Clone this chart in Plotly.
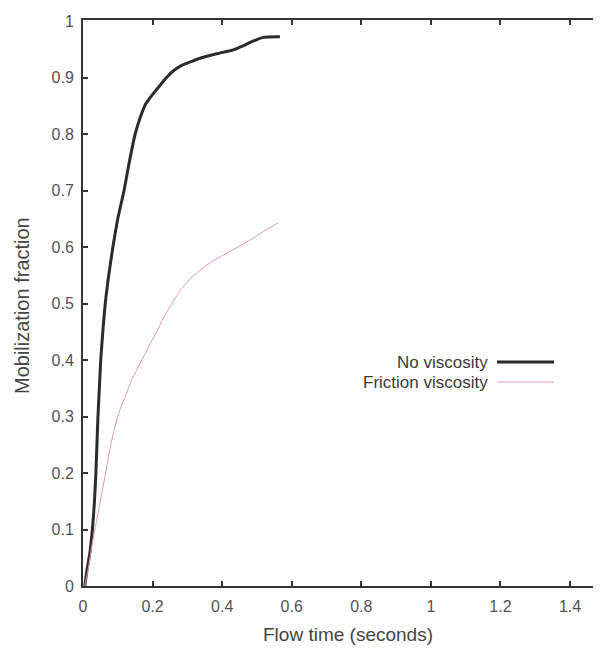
import plotly.graph_objects as go

# No viscosity (black thick curve)
nv_time = [0.005, 0.012, 0.02, 0.027, 0.033, 0.037, 0.040, 0.043, 0.047, 0.051, 0.057, 0.064,
           0.074, 0.086, 0.10, 0.118, 0.133, 0.15, 0.165, 0.18, 0.20, 0.22, 0.24, 0.26,
           0.285, 0.31, 0.336, 0.384, 0.432, 0.46, 0.48, 0.518, 0.566]
nv_frac = [0.0, 0.03, 0.06, 0.10, 0.15, 0.20, 0.25, 0.30, 0.35, 0.40, 0.45, 0.50,
           0.55, 0.60, 0.65, 0.70, 0.75, 0.80, 0.83, 0.853, 0.87, 0.885, 0.90, 0.912,
           0.922, 0.928, 0.934, 0.942, 0.949, 0.956, 0.962, 0.971, 0.972]

# Friction viscosity (thin pink curve)
fv_time = [0.005, 0.015, 0.025, 0.034, 0.05, 0.065, 0.078, 0.092, 0.105, 0.121, 0.14, 0.164,
           0.19, 0.212, 0.23, 0.25, 0.27, 0.288, 0.31, 0.336, 0.365, 0.394, 0.44, 0.48,
           0.52, 0.561]
fv_frac = [0.0, 0.03, 0.07, 0.10, 0.15, 0.20, 0.245, 0.282, 0.31, 0.335, 0.365, 0.394,
           0.425, 0.45, 0.473, 0.494, 0.514, 0.53, 0.545, 0.559, 0.572, 0.583, 0.598, 0.612,
           0.628, 0.643]

x_ticks = [0, 0.2, 0.4, 0.6, 0.8, 1.0, 1.2, 1.4]
x_labels = ["0", "0.2", "0.4", "0.6", "0.8", "1", "1.2", "1.4"]
y_ticks = [0, 0.1, 0.2, 0.3, 0.4, 0.5, 0.6, 0.7, 0.8, 0.9, 1.0]
y_labels = ["0", "0.1", "0.2", "0.3", "0.4", "0.5", "0.6", "0.7", "0.8", "0.9", "1"]

series_names = ["No viscosity", "Friction viscosity"]
series_colors = ["#2b2b2b", "#e79aaa"]
series_widths = [3.0, 1.0]

FONT = "Liberation Sans, Arial, sans-serif"

fig = go.Figure()
fig.add_trace(go.Scatter(x=nv_time, y=nv_frac, mode="lines", name=series_names[0],
                         line=dict(color=series_colors[0], width=series_widths[0],
                                   shape="spline", smoothing=0.6),
                         showlegend=False))
fig.add_trace(go.Scatter(x=fv_time, y=fv_frac, mode="lines", name=series_names[1],
                         line=dict(color=series_colors[1], width=series_widths[1],
                                   shape="spline", smoothing=0.6),
                         showlegend=False))

# page has an 8px body margin; figure is sized so the plot lands where the reference's does
OFF = 8
W, H = 601 - OFF, 648 - OFF
L, R, T, B = 83 - OFF, 0, 20 - OFF, 62
pw, ph = W - L - R, H - T - B

def px(xp):
    return (xp - OFF - L) / pw

def py(yp):
    return (H - B - (yp - OFF)) / ph

# gnuplot-style key: text right-aligned, sample line to the right
key_rows = [362, 382]
for name, color, width, yr in zip(series_names, series_colors, series_widths, key_rows):
    fig.add_annotation(xref="paper", yref="paper", x=px(490), y=py(yr), text=name,
                       showarrow=False, xanchor="right", yanchor="middle",
                       font=dict(family=FONT, size=17, color="#3a3a3a"))
    fig.add_shape(type="line", xref="paper", yref="paper", x0=px(497), x1=px(554),
                  y0=py(yr), y1=py(yr), line=dict(color=color, width=width))

fig.add_annotation(xref="paper", yref="paper", x=px(22), y=py(306), text="Mobilization fraction",
                   textangle=-90, showarrow=False, xanchor="center", yanchor="middle",
                   font=dict(family=FONT, size=20, color="#454545"))
fig.add_annotation(xref="paper", yref="paper", x=px(348), y=py(634), text="Flow time (seconds)",
                   showarrow=False, xanchor="center", yanchor="middle",
                   font=dict(family=FONT, size=19, color="#454545"))

axis_common = dict(showgrid=False, zeroline=False, showline=True, linecolor="#333333",
                   linewidth=2, mirror="ticks", ticks="inside", ticklen=5, tickwidth=1.5,
                   tickcolor="#333333",
                   tickfont=dict(family=FONT, size=16, color="#585058"))

fig.update_xaxes(range=[0, pw / 347.9], tickvals=x_ticks, ticktext=x_labels,
                 ticklabelstandoff=5, **axis_common)
fig.update_yaxes(range=[0, ph / 565], tickvals=y_ticks, ticktext=y_labels,
                 ticklabelstandoff=4, **axis_common)

fig.update_layout(width=W, height=H, margin=dict(l=L, r=R, t=T, b=B, autoexpand=False),
                  plot_bgcolor="white", paper_bgcolor="white")

fig.write_html("out.html")
